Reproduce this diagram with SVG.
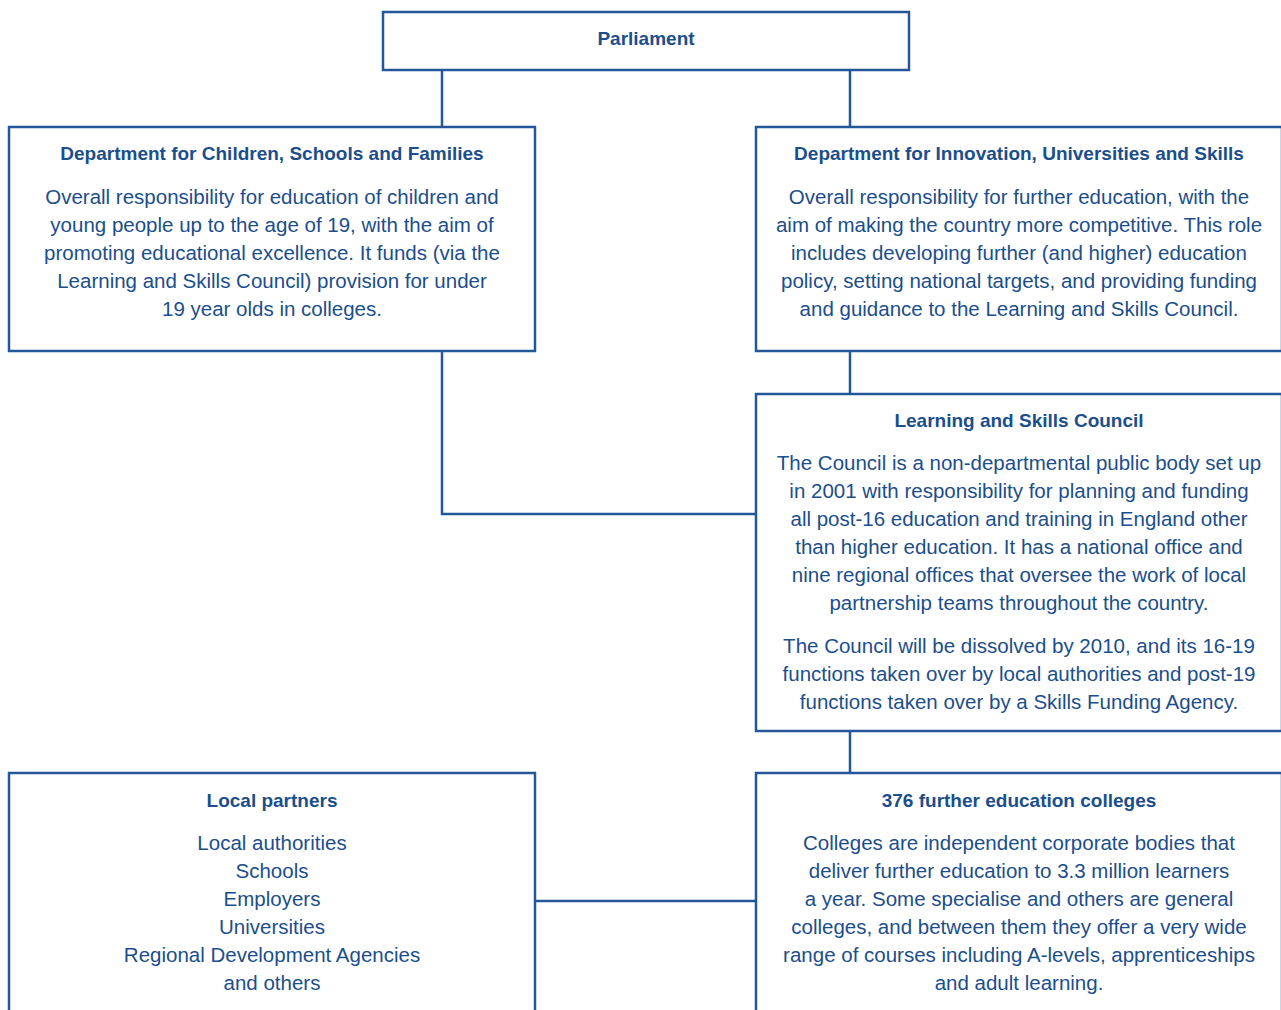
<svg xmlns="http://www.w3.org/2000/svg" width="1281" height="1010" viewBox="0 0 1281 1010">
<style>
.box{fill:#fff;stroke:#22589a;stroke-width:2.5}
.con{fill:none;stroke:#22589a;stroke-width:2.5}
.t{font-family:"Liberation Sans",Arial,sans-serif;font-weight:bold;font-size:19px;fill:#1b4e8c;text-anchor:middle}
.b{font-family:"Liberation Sans",Arial,sans-serif;font-size:20.5px;fill:#1b4e8c;text-anchor:middle}
</style>
<rect width="1281" height="1010" fill="#fff"/>
<g id="connectors">
<path class="con" d="M442 70V127M850 70V127M850 351V394M442 351V514H756M850 731V773M535 901H756"/>
</g>
<g id="parliament">
<rect class="box" x="383" y="12" width="526" height="58"/>
<text class="t" x="646" y="45">Parliament</text>
</g>
<g id="dcsf">
<rect class="box" x="9" y="127" width="526" height="224"/>
<text class="t" x="272" y="160">Department for Children, Schools and Families</text>
<text class="b" x="272" y="204">Overall responsibility for education of children and</text>
<text class="b" x="272" y="232">young people up to the age of 19, with the aim of</text>
<text class="b" x="272" y="260">promoting educational excellence. It funds (via the</text>
<text class="b" x="272" y="288">Learning and Skills Council) provision for under</text>
<text class="b" x="272" y="316">19 year olds in colleges.</text>
</g>
<g id="dius">
<rect class="box" x="756" y="127" width="526" height="224"/>
<text class="t" x="1019" y="160">Department for Innovation, Universities and Skills</text>
<text class="b" x="1019" y="204">Overall responsibility for further education, with the</text>
<text class="b" x="1019" y="232">aim of making the country more competitive. This role</text>
<text class="b" x="1019" y="260">includes developing further (and higher) education</text>
<text class="b" x="1019" y="288">policy, setting national targets, and providing funding</text>
<text class="b" x="1019" y="316">and guidance to the Learning and Skills Council.</text>
</g>
<g id="lsc">
<rect class="box" x="756" y="394" width="526" height="337"/>
<text class="t" x="1019" y="427">Learning and Skills Council</text>
<text class="b" x="1019" y="470">The Council is a non-departmental public body set up</text>
<text class="b" x="1019" y="498">in 2001 with responsibility for planning and funding</text>
<text class="b" x="1019" y="526">all post-16 education and training in England other</text>
<text class="b" x="1019" y="554">than higher education. It has a national office and</text>
<text class="b" x="1019" y="582">nine regional offices that oversee the work of local</text>
<text class="b" x="1019" y="610">partnership teams throughout the country.</text>
<text class="b" x="1019" y="653">The Council will be dissolved by 2010, and its 16-19</text>
<text class="b" x="1019" y="681">functions taken over by local authorities and post-19</text>
<text class="b" x="1019" y="709">functions taken over by a Skills Funding Agency.</text>
</g>
<g id="local-partners">
<rect class="box" x="9" y="773" width="526" height="260"/>
<text class="t" x="272" y="807">Local partners</text>
<text class="b" x="272" y="850">Local authorities</text>
<text class="b" x="272" y="878">Schools</text>
<text class="b" x="272" y="906">Employers</text>
<text class="b" x="272" y="934">Universities</text>
<text class="b" x="272" y="962">Regional Development Agencies</text>
<text class="b" x="272" y="990">and others</text>
</g>
<g id="fe-colleges">
<rect class="box" x="756" y="773" width="526" height="260"/>
<text class="t" x="1019" y="807">376 further education colleges</text>
<text class="b" x="1019" y="850">Colleges are independent corporate bodies that</text>
<text class="b" x="1019" y="878">deliver further education to 3.3 million learners</text>
<text class="b" x="1019" y="906">a year. Some specialise and others are general</text>
<text class="b" x="1019" y="934">colleges, and between them they offer a very wide</text>
<text class="b" x="1019" y="962">range of courses including A-levels, apprenticeships</text>
<text class="b" x="1019" y="990">and adult learning.</text>
</g>
</svg>
